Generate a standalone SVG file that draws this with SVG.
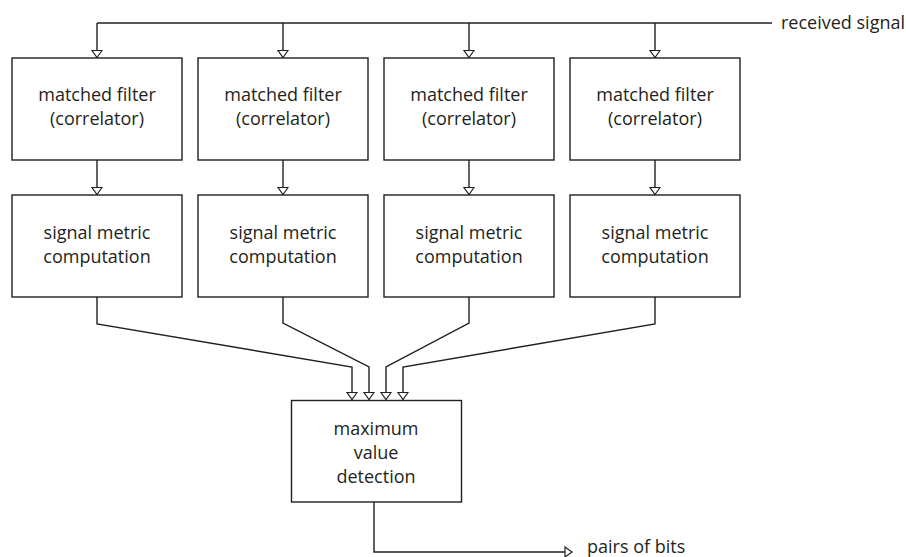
<svg xmlns="http://www.w3.org/2000/svg" width="906" height="557" viewBox="0 0 906 557">
<style>
.box{fill:#fff;stroke:#231f20;stroke-width:1.4}
.ln{fill:none;stroke:#231f20;stroke-width:1.4;marker-end:url(#arr)}
.ln0{fill:none;stroke:#231f20;stroke-width:1.4}
text{font-family:"Open Sans","Noto Sans",sans-serif;font-size:18px;fill:#231f20;text-anchor:middle}
.lab{text-anchor:start}
</style>
<defs>
<marker id="arr" markerUnits="userSpaceOnUse" markerWidth="12" markerHeight="14" refX="7" refY="6" orient="auto" overflow="visible">
<path d="M0,1 L7,6 L0,11 z" fill="#fff" stroke="#231f20" stroke-width="1.2"/>
</marker>
</defs>
<rect width="906" height="557" fill="#fff"/>
<g id="connectors">
<path class="ln0" d="M97,23 H772"/>
<path class="ln" d="M97,23 V57.5"/>
<path class="ln" d="M283,23 V57.5"/>
<path class="ln" d="M469,23 V57.5"/>
<path class="ln" d="M655,23 V57.5"/>
<path class="ln" d="M97,160 V194.5"/>
<path class="ln" d="M283,160 V194.5"/>
<path class="ln" d="M469,160 V194.5"/>
<path class="ln" d="M655,160 V194.5"/>
<path class="ln" d="M97,297 V324 L352,367 V399.5"/>
<path class="ln" d="M283,297 V323 L369,367 V399.5"/>
<path class="ln" d="M469,297 V323 L386,367 V399.5"/>
<path class="ln" d="M655,297 V324 L403,367 V399.5"/>
<path class="ln" d="M374,502 V552 H572"/>
</g>
<g id="mf1"><rect class="box" x="12" y="58" width="170" height="102"/><text x="97" y="100.5">matched filter</text><text x="97" y="124.5">(correlator)</text></g>
<g id="mf2"><rect class="box" x="198" y="58" width="170" height="102"/><text x="283" y="100.5">matched filter</text><text x="283" y="124.5">(correlator)</text></g>
<g id="mf3"><rect class="box" x="384" y="58" width="170" height="102"/><text x="469" y="100.5">matched filter</text><text x="469" y="124.5">(correlator)</text></g>
<g id="mf4"><rect class="box" x="570" y="58" width="170" height="102"/><text x="655" y="100.5">matched filter</text><text x="655" y="124.5">(correlator)</text></g>
<g id="sm1"><rect class="box" x="12" y="195" width="170" height="102"/><text x="97" y="238.5">signal metric</text><text x="97" y="262.5">computation</text></g>
<g id="sm2"><rect class="box" x="198" y="195" width="170" height="102"/><text x="283" y="238.5">signal metric</text><text x="283" y="262.5">computation</text></g>
<g id="sm3"><rect class="box" x="384" y="195" width="170" height="102"/><text x="469" y="238.5">signal metric</text><text x="469" y="262.5">computation</text></g>
<g id="sm4"><rect class="box" x="570" y="195" width="170" height="102"/><text x="655" y="238.5">signal metric</text><text x="655" y="262.5">computation</text></g>
<g id="maxdet"><rect class="box" x="291.5" y="400.5" width="170" height="101.5"/><text x="376" y="434.5">maximum</text><text x="376" y="458.5">value</text><text x="376" y="482.5">detection</text></g>
<g id="lbl-in"><text class="lab" x="781" y="28.5">received signal</text></g>
<g id="lbl-out"><text class="lab" x="587" y="552.5">pairs of bits</text></g>
</svg>
